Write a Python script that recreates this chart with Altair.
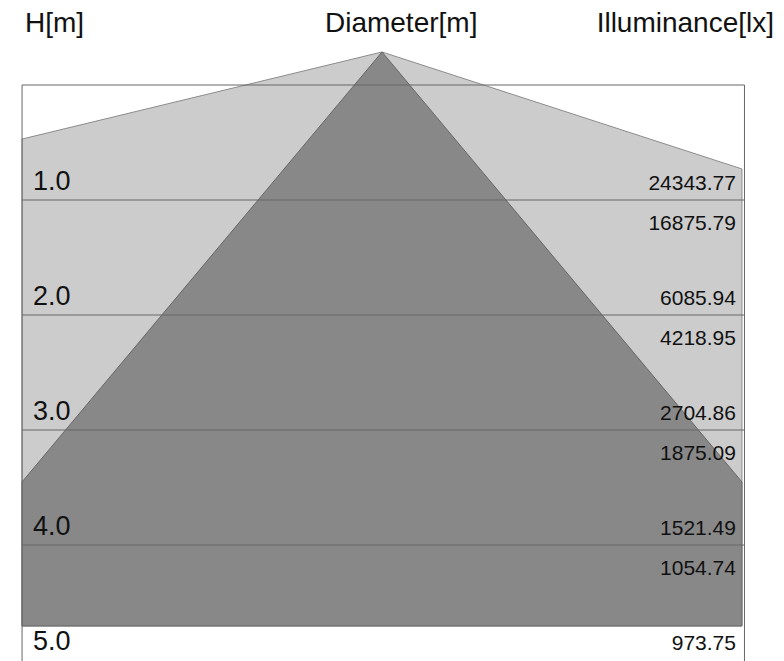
import altair as alt
import pandas as pd

# ---- data (metres / lux) ----
heights = [1.0, 2.0, 3.0, 4.0, 5.0]
height_labels = ["1.0", "2.0", "3.0", "4.0", "5.0"]
illum_upper = ["24343.77", "6085.94", "2704.86", "1521.49", "973.75"]
illum_lower = ["16875.79", "4218.95", "1875.09", "1054.74"]

# beam outlines: x = lateral position [m], top = H of upper edge [m]
beam_x = [-3.13, 0.0, 3.13]
wide_top = [0.47, -0.287, 0.73]
narrow_top = [3.452, -0.287, 3.452]
beam_bottom = 4.704

frame_left = -3.13
frame_right = 3.152
grid_h = [0.0, 1.0, 2.0, 3.0, 4.0]

headers = ["H[m]", "Diameter[m]", "Illuminance[lx]"]
header_x = [-3.104, -0.496, 3.409]
header_align = ["left", "left", "right"]
header_h = -0.461

# ---- layout ----
W, H = 768, 653
xdom = [-3.2522, 3.4261]
ydom = [-0.6696, 5.0087]
xs = alt.Scale(domain=xdom, nice=False, zero=False)
ys = alt.Scale(domain=ydom, nice=False, zero=False, reverse=True)
FONT = "Liberation Sans"

wide = pd.DataFrame({"x": beam_x, "top": wide_top, "bot": [beam_bottom] * 3})
narrow = pd.DataFrame({"x": beam_x, "top": narrow_top, "bot": [beam_bottom] * 3})

wide_area = alt.Chart(wide).mark_area(
    fill="#cccccc", stroke="#8c8c8c", strokeWidth=1, opacity=1
).encode(
    x=alt.X("x:Q", scale=xs, axis=None),
    y=alt.Y("top:Q", scale=ys, axis=None),
    y2="bot:Q",
)
narrow_area = alt.Chart(narrow).mark_area(
    fill="#888888", stroke="#666666", strokeWidth=1, opacity=1
).encode(
    x=alt.X("x:Q", scale=xs, axis=None),
    y=alt.Y("top:Q", scale=ys, axis=None),
    y2="bot:Q",
)

grid_df = pd.DataFrame({"h": grid_h, "x1": [frame_left] * len(grid_h), "x2": [frame_right] * len(grid_h)})
grid = alt.Chart(grid_df).mark_rule(color="#666666", strokeWidth=1).encode(
    x=alt.X("x1:Q", scale=xs, axis=None),
    x2="x2:Q",
    y=alt.Y("h:Q", scale=ys, axis=None),
)

vert_df = pd.DataFrame({"x": [frame_left, frame_right], "h1": [0.0, 0.0], "h2": [ydom[1], ydom[1]]})
verts = alt.Chart(vert_df).mark_rule(color="#666666", strokeWidth=1).encode(
    x=alt.X("x:Q", scale=xs, axis=None),
    y=alt.Y("h1:Q", scale=ys, axis=None),
    y2="h2:Q",
)

left_df = pd.DataFrame({"h": heights, "t": height_labels, "x": [-3.035] * len(heights)})
left_text = alt.Chart(left_df).mark_text(
    align="left", baseline="alphabetic", dy=-10, fontSize=27, font=FONT, color="#111111"
).encode(
    x=alt.X("x:Q", scale=xs, axis=None),
    y=alt.Y("h:Q", scale=ys, axis=None),
    text="t:N",
)

up_df = pd.DataFrame({"h": heights, "t": illum_upper, "x": [3.078] * len(heights)})
up_text = alt.Chart(up_df).mark_text(
    align="right", baseline="alphabetic", dy=-10, fontSize=21, font=FONT, color="#111111"
).encode(
    x=alt.X("x:Q", scale=xs, axis=None),
    y=alt.Y("h:Q", scale=ys, axis=None),
    text="t:N",
)

low_df = pd.DataFrame({"h": heights[:4], "t": illum_lower, "x": [3.078] * 4})
low_text = alt.Chart(low_df).mark_text(
    align="right", baseline="alphabetic", dy=30, fontSize=21, font=FONT, color="#111111"
).encode(
    x=alt.X("x:Q", scale=xs, axis=None),
    y=alt.Y("h:Q", scale=ys, axis=None),
    text="t:N",
)

head_layers = []
for t, hx, al in zip(headers, header_x, header_align):
    hdf = pd.DataFrame({"x": [hx], "h": [header_h], "t": [t]})
    head_layers.append(
        alt.Chart(hdf).mark_text(
            align=al, baseline="alphabetic", fontSize=28, font=FONT, color="#111111"
        ).encode(
            x=alt.X("x:Q", scale=xs, axis=None),
            y=alt.Y("h:Q", scale=ys, axis=None),
            text="t:N",
        )
    )

chart = alt.layer(
    wide_area, narrow_area, grid, verts, left_text, up_text, low_text, *head_layers
).properties(
    width=W, height=H, autosize=alt.AutoSizeParams(type="none"), padding=0, background="white"
).configure_view(strokeWidth=0)

chart.save("out.html", embed_options={"renderer": "svg", "actions": False})
